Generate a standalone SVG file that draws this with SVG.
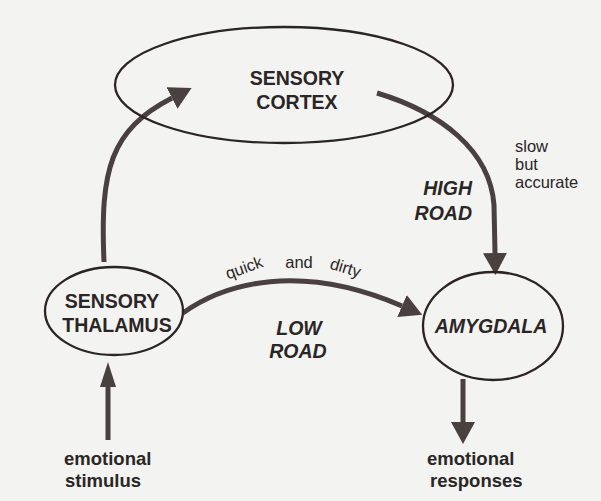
<svg xmlns="http://www.w3.org/2000/svg" width="601" height="501" viewBox="0 0 601 501">
<style>
.node{fill:none;stroke:#2a2424;stroke-width:2.3}
.lbl{font-family:"Liberation Sans",Arial,sans-serif;font-weight:bold;font-size:19.5px;fill:#2b2626}
.it{font-style:italic}
.em{font-family:"Liberation Sans",Arial,sans-serif;font-weight:bold;font-size:18.5px;fill:#2b2626}
.sm{font-family:"Liberation Sans",Arial,sans-serif;font-size:16.5px;fill:#2b2626}
.arr{fill:none;stroke:#4a4040;stroke-width:5}
</style>
<defs>
<marker id="head" markerUnits="userSpaceOnUse" markerWidth="22" markerHeight="24" refX="0" refY="12" orient="auto" viewBox="0 0 22 24">
<path d="M0,0 L22,12 L0,24 z" fill="#4a4040"/>
</marker>
<marker id="headN" markerUnits="userSpaceOnUse" markerWidth="25" markerHeight="16" refX="0" refY="8" orient="auto" viewBox="0 0 25 16">
<path d="M0,0 L25,8 L0,16 z" fill="#4a4040"/>
</marker>
</defs>
<rect x="0" y="0" width="601" height="501" fill="#f3f3f1"/>
<g id="connectors">
<path class="arr" d="M104,262 C100,170 110,130 172,98" marker-end="url(#head)"/>
<path class="arr" d="M377,93 C440,112 490,150 494,205 L495,253" marker-end="url(#head)"/>
<path class="arr" d="M183,313 C225,283 300,262 402,306" marker-end="url(#head)"/>
<path class="arr" d="M108,440 L108,387" marker-end="url(#headN)"/>
<path class="arr" d="M463,379 L463,422" marker-end="url(#head)"/>
</g>
<g id="cortex">
<ellipse class="node" cx="284" cy="85" rx="169" ry="58"/>
<text class="lbl" x="297" y="85" text-anchor="middle">SENSORY</text>
<text class="lbl" x="297" y="109" text-anchor="middle">CORTEX</text>
</g>
<g id="thalamus">
<ellipse class="node" cx="114" cy="311" rx="69" ry="44"/>
<text class="lbl" x="112" y="308" text-anchor="middle">SENSORY</text>
<text class="lbl" x="117" y="332" text-anchor="middle">THALAMUS</text>
</g>
<g id="amygdala">
<ellipse class="node" cx="493" cy="326" rx="70" ry="54"/>
<text class="lbl it" x="491" y="333" text-anchor="middle">AMYGDALA</text>
</g>
<g id="labels">
<text class="lbl it" x="472" y="195" text-anchor="end">HIGH</text>
<text class="lbl it" x="472" y="220" text-anchor="end">ROAD</text>
<text class="lbl it" x="299" y="335" text-anchor="middle">LOW</text>
<text class="lbl it" x="298" y="358" text-anchor="middle">ROAD</text>
<text class="sm" x="515" y="152">slow</text>
<text class="sm" x="515" y="170">but</text>
<text class="sm" x="515" y="188">accurate</text>
<text class="sm" x="246" y="273" text-anchor="middle" transform="rotate(-20 246 273)">quick</text>
<text class="sm" x="299" y="268" text-anchor="middle">and</text>
<text class="sm" x="344" y="273" text-anchor="middle" transform="rotate(17 344 273)">dirty</text>
</g>
<g id="stimulus">
<text class="em" x="64" y="465">emotional</text>
<text class="em" x="65" y="487">stimulus</text>
</g>
<g id="responses">
<text class="em" x="427" y="465">emotional</text>
<text class="em" x="430" y="487">responses</text>
</g>
</svg>
